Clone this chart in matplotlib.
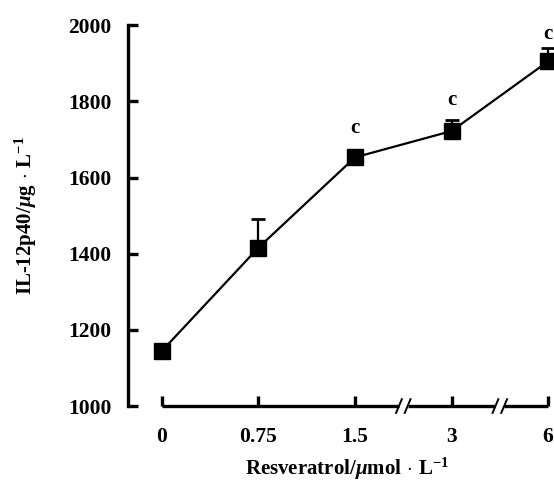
import matplotlib
matplotlib.use("Agg")
import matplotlib.pyplot as plt

# 数据
doses = ["0", "0.75", "1.5", "3", "6"]
il12 = [1145, 1416, 1653, 1722, 1905]
err = [0, 74, 0, 30, 34]
marks = ["", "", "c", "c", "c"]

plt.rcParams['font.family'] = ['Liberation Serif', 'DejaVu Serif']
plt.rcParams['font.weight'] = 'bold'
plt.rcParams['mathtext.fontset'] = 'custom'
plt.rcParams['mathtext.rm'] = 'Liberation Serif:bold'
plt.rcParams['mathtext.it'] = 'Liberation Serif:italic:bold'
plt.rcParams['mathtext.bf'] = 'Liberation Serif:bold'

fig = plt.figure(figsize=(5.54, 4.84), dpi=100)
ax = fig.add_axes([0.231, 0.161, 0.767, 0.787])

x = list(range(len(doses)))
ax.errorbar(x, il12, yerr=[[0] * len(err), err], fmt='s-', color='black',
            lw=1.6, ms=11.5, elinewidth=1.6, capsize=5, capthick=2, zorder=3)

# c 标记
offs = [14, 14, 14, 7, 3]
for xi, yi, e, m, o in zip(x, il12, err, marks, offs):
    if m:
        ax.annotate(m, (xi, yi + e), xytext=(0, o), textcoords='offset points',
                    ha='center', va='bottom', fontsize=15, fontweight='bold')

ax.set_xlim(-0.352, 4.05)
ax.set_ylim(1000, 2000)
ax.set_yticks([1000, 1200, 1400, 1600, 1800, 2000])
ax.set_xticks(x)
ax.set_xticklabels(doses)

for s in ['top', 'right', 'bottom']:
    ax.spines[s].set_visible(False)
ax.spines['left'].set_linewidth(2.4)
ax.tick_params(axis='y', direction='in', length=7, width=2.4, pad=12, labelsize=15.5)
ax.tick_params(axis='x', direction='in', length=7, width=2.4, pad=15, labelsize=15.5)

# 断开的x轴
d = 0.045
segs = [(0, 2.5 - d), (2.5 + d, 3.5 - d), (3.5 + d, 4)]
for a, b in segs:
    ax.plot([a, b], [1000, 1000], color='black', lw=2.4, clip_on=False,
            solid_capstyle='butt', zorder=4)
for c in [2.5, 3.5]:
    for dx in [-d, d]:
        ax.plot([c + dx - 0.03, c + dx + 0.03], [982, 1018], color='black',
                lw=1.4, clip_on=False, zorder=4)

ax.set_xlabel(r'Resveratrol/$\mu$mol$\,\cdot\,$L$^{-1}$', fontsize=15, fontweight='bold')
ax.xaxis.set_label_coords(0.516, -0.13)
ax.set_ylabel(r'IL-12p40/$\mu$g$\,\cdot\,$L$^{-1}$', fontsize=15, fontweight='bold')
ax.yaxis.set_label_coords(-0.21, 0.5)

fig.savefig('out.png', dpi=100)
